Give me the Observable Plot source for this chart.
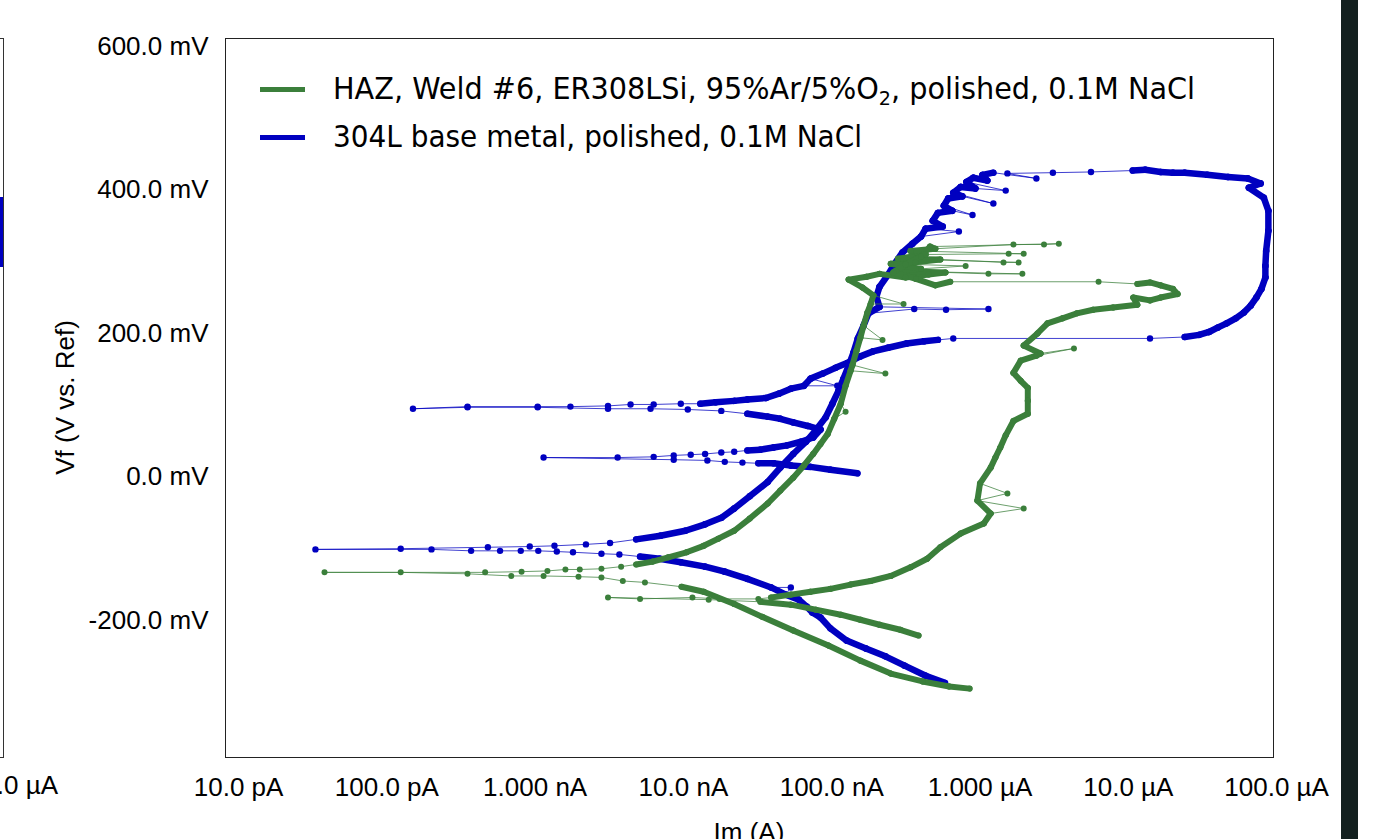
<!DOCTYPE html>
<html><head><meta charset="utf-8">
<script src="https://cdn.jsdelivr.net/npm/d3@7"></script>
<script src="https://cdn.jsdelivr.net/npm/@observablehq/plot@0.6"></script>
<style>
html,body{margin:0;padding:0;background:#fff;overflow:hidden;}
#wrap{position:relative;width:1385px;height:839px;overflow:hidden;background:#fff;font-family:"Liberation Sans",Arial,sans-serif;}
#chart{position:absolute;left:0;top:0;}
.abs{position:absolute;}
.sw{position:absolute;height:5px;}
.lt{position:absolute;white-space:nowrap;font-family:"DejaVu Sans",Verdana,sans-serif;font-size:30px;line-height:30px;color:#000;transform-origin:0 50%;}
.lt sub{font-size:20px;vertical-align:-6px;line-height:0;}
</style></head>
<body><div id="wrap"><div id="chart"></div></div>
<script>
// ---------- data (Im in A, Vf in V) ----------
const seriesNames = ["HAZ, Weld #6, ER308LSi, 95%Ar/5%O2, polished, 0.1M NaCl", "304L base metal, polished, 0.1M NaCl"];

const blueIm = [5.8e-7,4.3e-7,3.1e-7,2.3e-7,1.7e-7,1.26e-7,9.8e-8,8.4e-8,7.4e-8,6.8e-8,6.0e-8,4.9e-8,5.3e-8,3.9e-8,2.7e-8,1.9e-8,1.4e-8,9.6e-9,6.9e-9,5.1e-9,3.7e-9,2.8e-9,1.8e-9,1.4e-9,1.05e-9,8.0e-10,5.8e-10,3.7e-10,2.0e-10,3.3e-11,
1.24e-10,4.8e-10,9.2e-10,1.35e-9,2.2e-9,3.2e-9,4.8e-9,7.0e-9,1.03e-8,1.4e-8,1.8e-8,2.2e-8,2.8e-8,3.7e-8,4.5e-8,5.5e-8,6.7e-8,7.8e-8,9.1e-8,1.01e-7,1.11e-7,1.2e-7,1.3e-7,1.4e-7,1.5e-7,1.64e-7,1.77e-7,3.6e-7,5.9e-7,1.14e-6,2.1e-7,2.0e-7,2.1e-7,2.4e-7,2.65e-7,3.0e-7,3.5e-7,4.0e-7,7.2e-7,4.3e-7,5.6e-7,4.8e-7,5.2e-7,6.5e-7,8.9e-7,5.7e-7,6.1e-7,7.6e-7,1.23e-6,6.6e-7,7.4e-7,9.3e-7,1.49e-6,8.1e-7,9.0e-7,1.12e-6,1.04e-6,1.23e-6,2.4e-6,1.53e-6,
3.1e-6,5.6e-6,1.07e-5,1.3e-5,1.65e-5,2.0e-5,2.4e-5,3.4e-5,4.7e-5,6.4e-5,7.8e-5,6.5e-5,8.2e-5,8.8e-5,8.8e-5,8.5e-5,8.4e-5,8.4e-5,7.9e-5,7.3e-5,6.7e-5,6.0e-5,5.3e-5,4.6e-5,4.0e-5,3.5e-5,3.0e-5,2.4e-5,1.4e-5,6.6e-7,5.2e-7,4.2e-7,3.2e-7,2.4e-7,1.9e-7,1.56e-7,1.28e-7,1.06e-7,8.7e-8,7.2e-8,1.09e-7,6.5e-8,5.3e-8,4.4e-8,3.6e-8,2.7e-8,2.2e-8,1.65e-8,1.3e-8,9.6e-9,6.3e-9,4.4e-9,3.1e-9,1.73e-9,1.04e-9,3.5e-10,1.5e-10,
3.5e-10,1.04e-9,3.1e-9,6.0e-9,1.07e-8,1.8e-8,2.7e-8,3.7e-8,4.5e-8,5.5e-8,6.9e-8,8.4e-8,7.5e-8,6.2e-8,5.0e-8,4.05e-8,3.3e-8,2.7e-8,2.2e-8,1.8e-8,1.4e-8,1.12e-8,8.6e-9,6.3e-9,3.6e-9,1.14e-9,8.6e-9,1.45e-8,1.9e-8,2.5e-8,3.2e-8,4.05e-8,5.3e-8,7.2e-8,9.8e-8,1.49e-7];

const blueVf = [-0.287,-0.277,-0.263,-0.250,-0.239,-0.228,-0.211,-0.196,-0.189,-0.181,-0.171,-0.164,-0.154,-0.154,-0.142,-0.132,-0.125,-0.119,-0.114,-0.111,-0.108,-0.107,-0.105,-0.104,-0.103,-0.103,-0.103,-0.103,-0.101,-0.101,
-0.100,-0.098,-0.097,-0.096,-0.094,-0.092,-0.087,-0.082,-0.075,-0.066,-0.057,-0.044,-0.027,-0.007,0.013,0.032,0.049,0.065,0.083,0.102,0.120,0.137,0.155,0.173,0.193,0.211,0.228,0.234,0.233,0.234,0.237,0.251,0.265,0.282,0.297,0.313,0.325,0.335,0.342,0.346,0.349,0.357,0.368,0.371,0.365,0.378,0.388,0.391,0.381,0.396,0.404,0.402,0.399,0.411,0.417,0.413,0.421,0.424,0.416,0.423,
0.424,0.425,0.427,0.428,0.425,0.424,0.424,0.421,0.418,0.416,0.409,0.403,0.389,0.371,0.343,0.315,0.294,0.278,0.262,0.250,0.239,0.229,0.221,0.214,0.208,0.202,0.198,0.195,0.193,0.193,0.191,0.189,0.186,0.180,0.175,0.168,0.159,0.152,0.144,0.137,0.127,0.127,0.123,0.116,0.110,0.108,0.106,0.104,0.102,0.102,0.101,0.101,0.099,0.098,0.098,0.098,0.095,
0.097,0.097,0.095,0.095,0.094,0.092,0.088,0.084,0.081,0.076,0.071,0.066,0.055,0.049,0.044,0.041,0.038,0.037,0.035,0.034,0.032,0.031,0.030,0.028,0.027,0.027,0.024,0.023,0.021,0.020,0.019,0.019,0.016,0.014,0.010,0.005];

const greenIm = [8.5e-7,6.2e-7,4.1e-7,2.5e-7,1.56e-7,9.5e-8,5.5e-8,3.4e-8,2.2e-8,1.37e-8,9.7e-9,5.5e-9,3.9e-9,2.8e-9,1.96e-9,1.14e-9,6.9e-10,3.5e-10,1.24e-10,3.8e-11,
4.6e-10,8.1e-10,1.21e-9,1.6e-9,2.0e-9,2.8e-9,3.8e-9,4.8e-9,6.2e-9,7.9e-9,1.05e-8,1.37e-8,1.72e-8,2.2e-8,2.8e-8,3.7e-8,4.5e-8,5.5e-8,6.5e-8,7.5e-8,8.4e-8,9.4e-8,1.04e-7,1.24e-7,1.15e-7,1.24e-7,1.34e-7,2.3e-7,1.38e-7,1.47e-7,1.56e-7,2.2e-7,1.64e-7,1.74e-7,1.83e-7,3.05e-7,1.91e-7,1.61e-7,1.3e-7,1.72e-7,2.1e-7,
3.15e-7,4.5e-7,5.85e-7,1.14e-6,1.93e-6,2.7e-7,4.0e-7,8.0e-7,2.5e-7,3.67e-7,5.4e-7,1.44e-6,1.82e-6,2.8e-7,4.3e-7,1.56e-6,1.97e-6,3.4e-7,5.0e-7,1.68e-6,2.7e-6,3.4e-6,4.6e-7,4.0e-7,3.15e-7,2.6e-7,3.7e-7,5.0e-7,6.3e-7,6.3e-6,
1.15e-5,1.4e-5,1.65e-5,2.0e-5,2.15e-5,1.65e-5,1.4e-5,1.08e-5,1.15e-5,7.9e-6,5.8e-6,4.5e-6,3.6e-6,2.85e-6,2.44e-6,1.97e-6,2.56e-6,4.3e-6,2.4e-6,1.88e-6,1.68e-6,1.88e-6,2.1e-6,2.1e-6,2.1e-6,1.68e-6,1.49e-6,1.37e-6,1.27e-6,1.18e-6,1.0e-6,1.53e-6,9.6e-7,1.97e-6,1.18e-6,1.06e-6,7.4e-7,5.4e-7,4.4e-7,3.4e-7,2.5e-7,1.83e-7,1.34e-7,9.8e-8,7.2e-8,5.3e-8,3.9e-8,3.2e-8,1.75e-8,1.15e-8,5.1e-9,3.1e-9,1.48e-8,3.3e-8,5.3e-8,7.8e-8,1.15e-7,1.56e-7,2.1e-7,2.9e-7,3.85e-7];

const greenVf = [-0.295,-0.292,-0.285,-0.274,-0.256,-0.235,-0.214,-0.195,-0.177,-0.160,-0.153,-0.147,-0.145,-0.140,-0.139,-0.138,-0.138,-0.135,-0.133,-0.133,
-0.133,-0.132,-0.131,-0.129,-0.129,-0.128,-0.125,-0.122,-0.118,-0.112,-0.105,-0.096,-0.086,-0.075,-0.058,-0.037,-0.019,-0.001,0.016,0.032,0.046,0.060,0.081,0.091,0.102,0.127,0.148,0.144,0.156,0.176,0.194,0.191,0.211,0.229,0.241,0.241,0.253,0.264,0.275,0.279,0.283,
0.278,0.282,0.285,0.283,0.283,0.287,0.290,0.294,0.297,0.299,0.303,0.299,0.299,0.304,0.310,0.311,0.311,0.315,0.318,0.324,0.324,0.325,0.321,0.307,0.296,0.285,0.276,0.267,0.272,0.272,
0.269,0.271,0.267,0.262,0.255,0.250,0.246,0.250,0.240,0.236,0.233,0.228,0.221,0.214,0.200,0.183,0.172,0.179,0.169,0.162,0.145,0.134,0.124,0.106,0.088,0.078,0.058,0.041,0.027,0.013,-0.009,-0.023,-0.033,-0.044,-0.051,-0.065,-0.079,-0.098,-0.114,-0.126,-0.138,-0.145,-0.150,-0.156,-0.160,-0.164,-0.168,-0.170,-0.170,-0.168,-0.170,-0.168,-0.171,-0.174,-0.178,-0.185,-0.192,-0.199,-0.206,-0.213,-0.221];

const xTickValues = [1e-11,1e-10,1e-9,1e-8,1e-7,1e-6,1e-5,1e-4];
const xTickLabels = ["10.0 pA","100.0 pA","1.000 nA","10.0 nA","100.0 nA","1.000 µA","10.0 µA","100.0 µA"];
const yTickValues = [-0.2,0,0.2,0.4,0.6];
const yTickLabels = ["-200.0 mV","0.0 mV","200.0 mV","400.0 mV","600.0 mV"];
const xAxisTitle = "Im (A)";
const yAxisTitle = "Vf (V vs. Ref)";

// ---------- layout / style ----------
const W = 1340, H = 860;
const ML = 225, MR = W - 1273, MT = 38, MB = H - 757;
const xDomain = [Math.pow(10, -11.088), Math.pow(10, -4.021)];
const yDomain = [-0.391, 0.611];
const GREEN = "#3b7f3b", BLUE = "#0000c0";

// index ranges of densely sampled stretches (drawn as a solid band; isolated spike samples skipped)
const blueBands = [[0,19],[36,87],[92,117],[120,138],[153,164],[177,182]];
const blueSpikes = [12,57,58,59,68,74,78,82,130];
const greenBands = [[0,10],[27,89],[91,137],[144,151]];
const greenSpikes = [43,47,51,55,64,65,68,72,73,76,77,80,81,82,108,122,124];

function build(Im, Vf, bands, spikes) {
  const pts = Im.map((d, i) => ({Im: d, Vf: Vf[i]}));
  const thin = [];
  for (let i = 1; i < pts.length; i++) {
    thin.push({x1: pts[i-1].Im, y1: pts[i-1].Vf, x2: pts[i].Im, y2: pts[i].Vf});
  }
  const band = [];
  bands.forEach(([s, e]) => {
    let prev = null;
    for (let i = s; i <= e; i++) {
      if (spikes.includes(i)) continue;
      if (prev !== null) band.push({x1: pts[prev].Im, y1: pts[prev].Vf, x2: pts[i].Im, y2: pts[i].Vf});
      prev = i;
    }
  });
  return {pts, thin, band};
}
const blue = build(blueIm, blueVf, blueBands, blueSpikes);
const green = build(greenIm, greenVf, greenBands, greenSpikes);

function seriesMarks(s, color, bandW, r) {
  return [
    Plot.link(s.thin, {x1: "x1", y1: "y1", x2: "x2", y2: "y2", stroke: color, strokeWidth: 1, strokeOpacity: 0.75}),
    Plot.link(s.band, {x1: "x1", y1: "y1", x2: "x2", y2: "y2", stroke: color, strokeWidth: bandW, strokeLinecap: "round", strokeLinejoin: "round"}),
    Plot.dot(s.pts, {x: "Im", y: "Vf", r: r, fill: color, stroke: null})
  ];
}

const fmtX = d => { const k = xTickValues.findIndex(v => Math.abs(Math.log10(v) - Math.log10(d)) < 1e-6); return k >= 0 ? xTickLabels[k] : ""; };
const fmtY = d => { const k = yTickValues.findIndex(v => Math.abs(v - d) < 1e-9); return k >= 0 ? yTickLabels[k] : ""; };

const chart = Plot.plot({
  width: W, height: H,
  marginLeft: ML, marginRight: MR, marginTop: MT, marginBottom: MB,
  style: {fontFamily: '"Liberation Sans", Arial, sans-serif', fontSize: "26px", color: "#000", background: "transparent", overflow: "visible"},
  x: {type: "log", domain: xDomain},
  y: {type: "linear", domain: yDomain},
  marks: [
    ...seriesMarks(blue, BLUE, 6.5, 3.2),
    ...seriesMarks(green, GREEN, 6, 3),
    Plot.frame({stroke: "#222", strokeWidth: 1}),
    Plot.axisX({ticks: xTickValues, tickFormat: fmtX, tickSize: 0, tickPadding: 20, label: null, fill: "#000"}),
    Plot.axisY({ticks: yTickValues, tickFormat: fmtY, tickSize: 0, tickPadding: 17, label: null, fill: "#000"})
  ]
});
document.getElementById("chart").appendChild(chart);

// axis titles
const svg = d3.select(chart);
svg.append("text").attr("transform", `translate(65,${(MT + H - MB) / 2}) rotate(-90)`)
  .attr("text-anchor", "middle").attr("dominant-baseline", "central")
  .attr("font-size", 26).attr("fill", "#000").text(yAxisTitle);
svg.append("text").attr("x", (ML + W - MR) / 2).attr("y", 841)
  .attr("text-anchor", "middle").attr("font-size", 26).attr("fill", "#000").text(xAxisTitle);

// legend inside plot area
const wrap = document.getElementById("wrap");
const legendItems = [
  {name: seriesNames[0], color: GREEN, y: 89, target: 862},
  {name: seriesNames[1], color: BLUE, y: 137, target: 529}
];
const textEls = [];
legendItems.forEach(it => {
  const sw = document.createElement("div");
  sw.className = "sw";
  sw.style.left = "260px"; sw.style.width = "45px"; sw.style.top = (it.y - 2.5) + "px"; sw.style.background = it.color;
  wrap.appendChild(sw);
  const t = document.createElement("div");
  t.className = "lt";
  t.style.left = "333px"; t.style.top = (it.y - 15) + "px";
  t.innerHTML = it.name.replace("O2,", "O<sub>2</sub>,");
  wrap.appendChild(t);
  textEls.push([t, it.target]);
});
function fit() {
  textEls.forEach(([t, target]) => {
    t.style.transform = "none";
    const w = t.getBoundingClientRect().width;
    if (w > 0) t.style.transform = `scaleX(${target / w})`;
  });
}
fit();
if (document.fonts && document.fonts.ready) document.fonts.ready.then(fit);

// screenshot surroundings: neighbouring panel edge and dark strip at right
const deco = [
  {l: 3, t: 38, w: 1, h: 719, bg: "#333"},
  {l: 0, t: 38, w: 4, h: 1, bg: "#333"},
  {l: 0, t: 757, w: 4, h: 1, bg: "#333"},
  {l: 0, t: 197, w: 3, h: 70, bg: BLUE},
  {l: 1341, t: 0, w: 17, h: 839, bg: "#13201f"}
];
deco.forEach(d => {
  const e = document.createElement("div");
  e.className = "abs";
  Object.assign(e.style, {left: d.l + "px", top: d.t + "px", width: d.w + "px", height: d.h + "px", background: d.bg});
  wrap.appendChild(e);
});
const cut = document.createElement("div");
cut.className = "abs";
Object.assign(cut.style, {right: (1385 - 58) + "px", top: "770px", fontSize: "26px", lineHeight: "30px", whiteSpace: "nowrap", color: "#000"});
cut.textContent = "100.0 µA";
wrap.appendChild(cut);
</script>
</body></html>
